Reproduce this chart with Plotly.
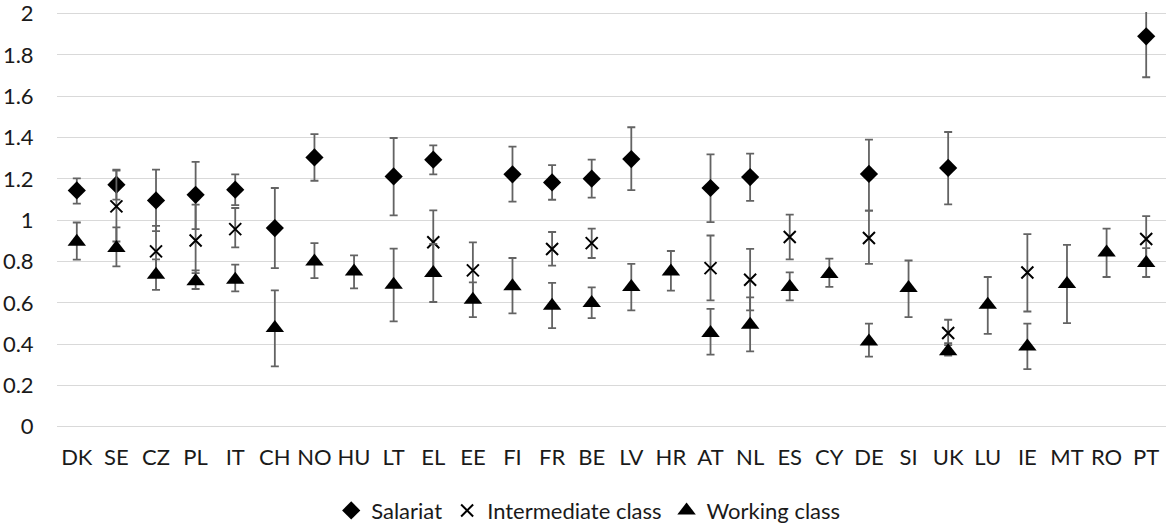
import plotly.graph_objects as go

countries = ["DK", "SE", "CZ", "PL", "IT", "CH", "NO", "HU", "LT", "EL", "EE", "FI", "FR", "BE",
             "LV", "HR", "AT", "NL", "ES", "CY", "DE", "SI", "UK", "LU", "IE", "MT", "RO", "PT"]

# Salariat: estimate, upper CI, lower CI
salariat = [1.144, 1.172, 1.096, 1.123, 1.148, 0.962, 1.304, None, 1.212, 1.293, None, 1.222, 1.183, 1.201,
            1.296, None, 1.156, 1.209, None, None, 1.224, None, 1.253, None, None, None, None, 1.890]
salariat_hi = [1.203, 1.245, 1.245, 1.282, 1.222, 1.156, 1.417, None, 1.398, 1.362, None, 1.356, 1.267, 1.293,
               1.450, None, 1.319, 1.322, None, None, 1.390, None, 1.427, None, None, None, None, 2.090]
salariat_lo = [1.080, 1.100, 0.947, 0.957, 1.073, 0.768, 1.191, None, 1.023, 1.222, None, 1.090, 1.099, 1.109,
               1.146, None, 0.991, 1.094, None, None, 1.046, None, 1.077, None, None, None, None, 1.692]

# Intermediate class
intermediate = [None, 1.067, 0.849, 0.902, 0.957, None, None, None, None, 0.893, 0.757, None, 0.861, 0.889,
                None, None, 0.768, 0.712, 0.919, None, 0.914, None, 0.454, None, 0.747, None, None, 0.909]
intermediate_hi = [None, 1.240, 0.973, 1.075, 1.059, None, None, None, None, 1.048, 0.893, None, 0.943, 0.959,
                   None, None, 0.926, 0.861, 1.027, None, 1.046, None, 0.518, None, 0.933, None, None, 1.020]
intermediate_lo = [None, 0.897, 0.725, 0.744, 0.868, None, None, None, None, 0.738, 0.621, None, 0.780, 0.817,
                   None, None, 0.612, 0.563, 0.810, None, 0.789, None, 0.405, None, 0.558, None, None, 0.800]

# Working class
working = [0.896, 0.865, 0.736, 0.704, 0.712, 0.478, 0.800, 0.752, 0.688, 0.744, 0.615, 0.680, 0.586, 0.599,
           0.677, 0.752, 0.454, 0.494, 0.677, 0.739, 0.413, 0.672, 0.365, 0.591, 0.389, 0.691, 0.844, 0.793]
working_hi = [0.989, 0.965, 0.810, 0.757, 0.785, 0.660, 0.889, 0.830, 0.862, 0.885, 0.699, 0.817, 0.697, 0.675,
              0.789, 0.851, 0.571, 0.626, 0.747, 0.814, 0.499, 0.805, 0.395, 0.725, 0.499, 0.881, 0.959, 0.865]
working_lo = [0.809, 0.776, 0.663, 0.667, 0.655, 0.292, 0.720, 0.670, 0.510, 0.604, 0.531, 0.549, 0.478, 0.526,
              0.563, 0.659, 0.349, 0.365, 0.612, 0.677, 0.340, 0.531, 0.345, 0.450, 0.279, 0.502, 0.725, 0.725]

y_ticks = [0, 0.2, 0.4, 0.6, 0.8, 1, 1.2, 1.4, 1.6, 1.8, 2]

FONT = "Lato"
TXT = "#1a1a1a"
ERR = "#636363"


def errs(v, hi, lo):
    plus = [(h - x) if x is not None else None for x, h in zip(v, hi)]
    minus = [(x - l) if x is not None else None for x, l in zip(v, lo)]
    return plus, minus


fig = go.Figure()
series = [
    ("Salariat", salariat, salariat_hi, salariat_lo,
     dict(symbol="diamond", size=14, color="black")),
    ("Intermediate class", intermediate, intermediate_hi, intermediate_lo,
     dict(symbol="x-thin-open", size=12, color="black", line=dict(color="black", width=2))),
    ("Working class", working, working_hi, working_lo,
     dict(symbol="triangle-up", size=16, color="black")),
]
for name, v, hi, lo, mk in series:
    plus, minus = errs(v, hi, lo)
    fig.add_trace(go.Scatter(
        x=countries, y=v, name=name, mode="markers", marker=mk,
        error_y=dict(type="data", symmetric=False, array=plus, arrayminus=minus,
                     color=ERR, thickness=1.8, width=4),
    ))

fig.update_layout(
    width=1166, height=526,
    margin=dict(l=57, r=0, t=11.65, b=97.76, autoexpand=False),
    paper_bgcolor="white", plot_bgcolor="white",
    font=dict(family=FONT, size=22, color=TXT),
    showlegend=True,
    legend=dict(orientation="h", x=0.4790, xanchor="center", y=-0.1987, yanchor="middle",
                font=dict(family=FONT, size=22, color=TXT), itemclick=False),
    xaxis=dict(type="category", range=[-0.5, 27.5], showgrid=False, showline=False, zeroline=False,
               ticks="outside", ticklen=10, tickcolor="rgba(0,0,0,0)",
               tickfont=dict(family=FONT, size=22, color=TXT)),
    yaxis=dict(range=[-0.006, 2.008], tickvals=y_ticks, ticktext=[f"{t:g}" for t in y_ticks],
               showgrid=True, gridcolor="#d9d9d9", gridwidth=1.3, zeroline=False, showline=False,
               ticks="outside", ticklen=18, tickcolor="rgba(0,0,0,0)", ticklabeloverflow="allow",
               tickfont=dict(family=FONT, size=22, color=TXT)),
)

# remove the browser's default 8px body margin so the figure fills the window
fig.write_html("out.html", config={"displayModeBar": False},
               post_script="document.body.style.margin='0';")
